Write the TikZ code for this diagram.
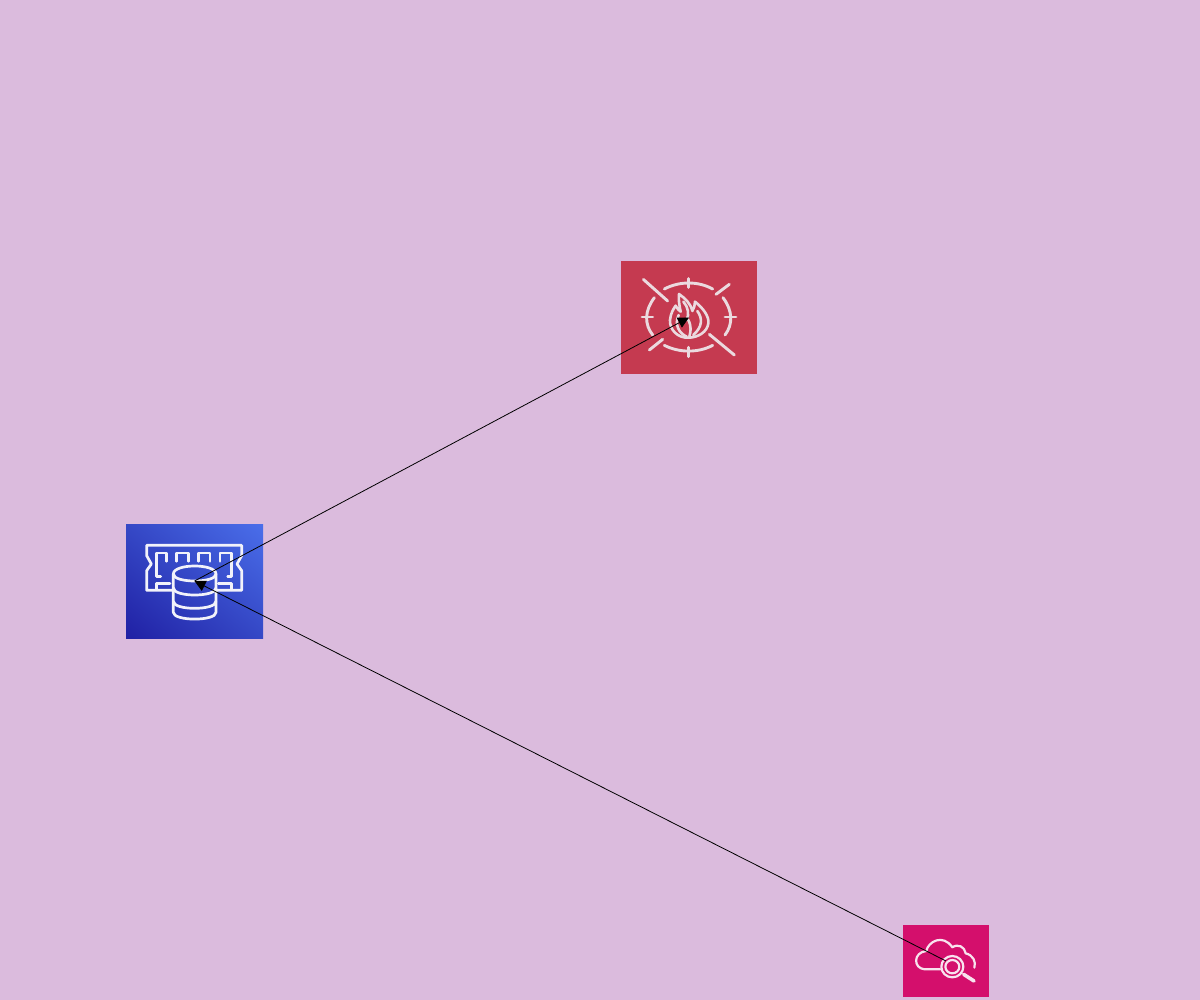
\documentclass[tikz,border=0pt]{standalone}
\usetikzlibrary{arrows.meta,shadings}
\definecolor{bgc}{HTML}{DBBBDD}
\definecolor{redc}{HTML}{C53A50}
\definecolor{pinkc}{HTML}{D40F6C}
\definecolor{blueA}{HTML}{2020A4}
\definecolor{blueB}{HTML}{4A6EEA}
\definecolor{blueM}{HTML}{3548C6}
\definecolor{redl}{HTML}{EBDADF}
\definecolor{bluel}{HTML}{F2F2FA}
\definecolor{pinkl}{HTML}{F8E3EE}
\tikzset{
  iconbox/.style={inner sep=0pt,outer sep=0pt,draw=none},
  link/.style={draw=black,line width=0.4pt,-{Triangle[length=5.5pt,width=5.5pt]},shorten >=0pt},
  zoomed/.style={x=0.16667pt,y=-0.16667pt,line cap=round,line join=round},
}
\begin{document}
\begin{tikzpicture}[x=0.5pt,y=-0.5pt]
\useasboundingbox (0,0) rectangle (1200,1000);
\fill[bgc] (0,0) rectangle (1200,1000);
\node[iconbox,fill=redc,minimum width=68pt,minimum height=56.5pt] (waf) at (689,317.5) {};
\node[iconbox,minimum width=68.5pt,minimum height=57pt,lower left=blueA,upper right=blueB,upper left=blueM,lower right=blueM] (cache) at (194.5,581) {};
\node[iconbox,fill=pinkc,minimum width=43pt,minimum height=36pt] (search) at (946,961) {};
% firewall icon
\begin{scope}[shift={(611,251)},zoomed,draw=redl,line width=1.45pt]
  \draw (160,114) .. controls (205,90) and (262,90) .. (305,114);
  \draw (160,283) .. controls (205,306) and (262,306) .. (305,283);
  \draw (130,140) .. controls (100,180) and (100,220) .. (125,252);
  \draw (336,140) .. controls (366,180) and (366,220) .. (342,252);
  \draw (233,83) -- (233,109);
  \draw (233,289) -- (233,317);
  \draw (93,198) -- (125,198);
  \draw (342,198) -- (375,198);
  \draw (97,85) -- (170,150);
  \draw (295,250) -- (370,312);
  \draw (315,130) -- (355,100);
  \draw (115,297) -- (155,265);
\end{scope}
\begin{scope}[shift={(660,285)},zoomed,draw=redl,line width=1.3pt]
  \draw (85,158) .. controls (55,160) and (28,135) .. (30,105)
     .. controls (32,85) and (40,72) .. (47,62)
     .. controls (53,72) and (58,78) .. (62,80)
     .. controls (58,60) and (55,45) .. (57,27)
     .. controls (75,40) and (92,55) .. (97,78)
     .. controls (102,70) and (105,60) .. (105,50)
     .. controls (130,70) and (148,95) .. (145,115)
     .. controls (142,140) and (115,158) .. (85,158) -- cycle;
  \draw (80,155) .. controls (58,145) and (42,120) .. (56,90);
  \draw (70,50) .. controls (85,65) and (88,90) .. (80,105);
  \draw (112,78) .. controls (128,100) and (128,125) .. (100,150);
  \draw (85,105) .. controls (95,125) and (92,140) .. (88,155);
\end{scope}
% in-memory database icon
\begin{scope}[shift={(116,514)},zoomed,draw=bluel,line width=1.35pt]
  \draw (168,229) -- (92,229) -- (92,170) -- (106,150) -- (92,125) -- (92,94) -- (377,94) -- (377,125) -- (363,150) -- (377,170) -- (377,229) -- (302,229);
  \draw (134,187) -- (122,187) -- (122,117) -- (152,117) -- (152,142);
  \draw (182,142) -- (182,117) -- (217,117) -- (217,142);
  \draw (247,142) -- (247,117) -- (282,117) -- (282,142);
  \draw (312,142) -- (312,117) -- (347,117) -- (347,187) -- (335,187);
  \draw (122,227) -- (122,209) -- (162,209);
  \draw (347,227) -- (347,209) -- (307,209);
  \draw (172,180) .. controls (172,148) and (300,148) .. (300,180)
     -- (300,295) .. controls (300,322) and (172,322) .. (172,295) -- cycle;
  \draw (172,180) .. controls (172,208) and (300,208) .. (300,180);
  \draw (172,222) .. controls (172,250) and (300,250) .. (300,222);
  \draw (172,262) .. controls (172,290) and (300,290) .. (300,262);
\end{scope}
% cloud search icon
\begin{scope}[shift={(893,915)},zoomed,draw=pinkl,line width=1.1pt]
  \draw (142,163) -- (95,163) .. controls (60,160) and (60,112) .. (100,108)
     .. controls (105,80) and (150,55) .. (178,97)
     .. controls (195,85) and (215,95) .. (218,115)
     .. controls (240,120) and (250,140) .. (244,158);
  \draw (178,155) ellipse (33 and 32);
  \draw (178,155) ellipse (21 and 20);
  \draw[line width=1.8pt] (212,178) -- (243,198);
\end{scope}
\draw[link] (cache.center) -- (waf.center);
\draw[link] (search.center) -- (cache.center);
\end{tikzpicture}
\end{document}
